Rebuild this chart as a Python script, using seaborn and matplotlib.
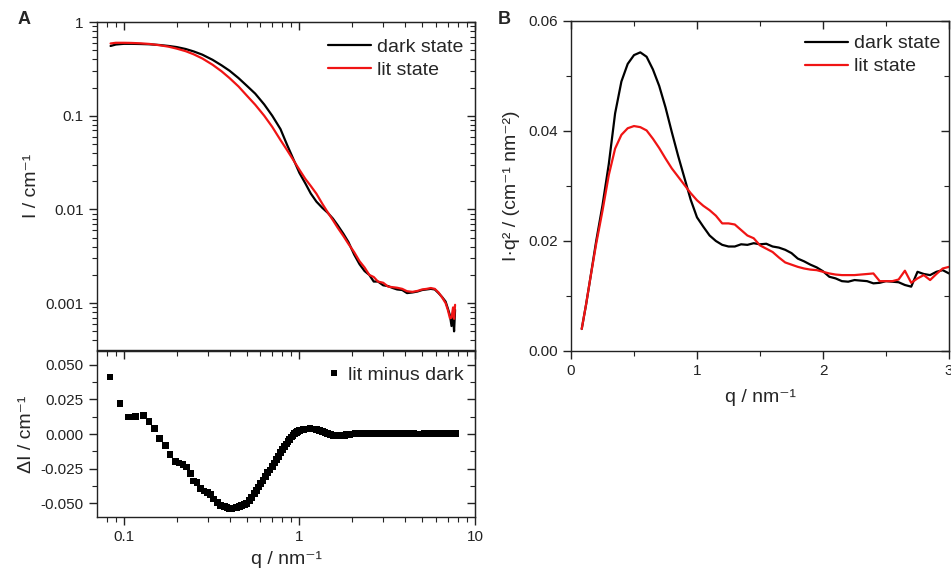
import matplotlib
matplotlib.use("Agg")
import matplotlib.pyplot as plt
import matplotlib.ticker as mticker
import numpy as np
import pandas as pd
import seaborn as sns

# panel A (top): scattering curves I(q), log-log
q_a = [0.084, 0.090, 0.100, 0.110, 0.125, 0.140, 0.160, 0.180, 0.200, 0.225,
       0.250, 0.280, 0.320, 0.360, 0.400, 0.450, 0.500, 0.560, 0.630, 0.700,
       0.780, 0.850, 0.920, 1.000, 1.080, 1.160, 1.250, 1.350, 1.450, 1.550,
       1.650, 1.780, 1.900, 2.050, 2.200, 2.350, 2.500, 2.650, 2.800, 3.000,
       3.200, 3.400, 3.600, 3.850, 4.100, 4.400, 4.700, 5.000, 5.300, 5.600,
       5.900, 6.200, 6.500, 6.800, 7.000, 7.200, 7.350, 7.500, 7.600, 7.700]
i_dark = [0.555, 0.575, 0.585, 0.585, 0.582, 0.578, 0.568, 0.555, 0.540, 0.515,
          0.485, 0.448, 0.395, 0.345, 0.302, 0.252, 0.210, 0.172, 0.132, 0.100,
          0.072, 0.049, 0.035, 0.0245, 0.0190, 0.0148, 0.0121, 0.0104, 0.0092, 0.0080,
          0.0068, 0.0055, 0.0045, 0.0033, 0.0026, 0.0022, 0.0020, 0.0017, 0.0017, 0.00155,
          0.00152, 0.00145, 0.00140, 0.00138, 0.00128, 0.00130, 0.00133, 0.00138, 0.00140, 0.00142,
          0.00140, 0.00128, 0.00116, 0.00104, 0.00088, 0.00074, 0.00057, 0.00074, 0.00050, 0.00085]
i_lit = [0.590, 0.600, 0.600, 0.598, 0.592, 0.583, 0.565, 0.545, 0.520, 0.488,
         0.452, 0.408, 0.350, 0.298, 0.252, 0.205, 0.165, 0.131, 0.100, 0.076,
         0.055, 0.043, 0.034, 0.0265, 0.0212, 0.0178, 0.0147, 0.0115, 0.0093, 0.0077,
         0.0064, 0.0052, 0.0043, 0.0035, 0.0028, 0.0024, 0.0020, 0.0019, 0.0017, 0.00165,
         0.00150, 0.00148, 0.00146, 0.00142, 0.00134, 0.00132, 0.00135, 0.00140, 0.00142, 0.00145,
         0.00142, 0.00130, 0.00115, 0.00100, 0.00085, 0.00069, 0.00070, 0.00090, 0.00068, 0.00096]

# panel A (bottom): lit minus dark
q_diff = [0.0834, 0.095, 0.106, 0.117, 0.129, 0.139, 0.150, 0.160, 0.172, 0.183,
          0.196, 0.206, 0.217, 0.228, 0.239, 0.250, 0.261, 0.273, 0.286, 0.298,
          0.311, 0.325, 0.340, 0.355, 0.365, 0.375, 0.387, 0.400, 0.413, 0.427,
          0.440, 0.456, 0.470, 0.487, 0.500, 0.520, 0.535, 0.555, 0.570, 0.587,
          0.600, 0.620, 0.640, 0.660, 0.680, 0.700, 0.720, 0.740, 0.760, 0.780,
          0.800, 0.820, 0.840, 0.860, 0.880, 0.900, 0.920, 0.940, 0.960, 0.980,
          1.00, 1.05, 1.10, 1.15, 1.20, 1.25, 1.30, 1.35, 1.40, 1.45,
          1.50, 1.56, 1.62, 1.68, 1.74, 1.80, 1.86, 1.92, 2.00, 2.08,
          2.16, 2.25, 2.35, 2.45, 2.55, 2.67, 2.80, 2.93, 3.07, 3.22,
          3.37, 3.53, 3.70, 3.88, 4.07, 4.27, 4.47, 4.68, 4.90, 5.13,
          5.37, 5.62, 5.88, 6.15, 6.43, 6.72, 7.02, 7.33, 7.65, 7.78]
d_int = [0.0412, 0.0220, 0.0123, 0.0128, 0.0133, 0.0090, 0.0041, -0.0031, -0.0082, -0.0149,
         -0.0200, -0.0210, -0.0221, -0.0239, -0.0287, -0.0340, -0.0350, -0.0393, -0.0412, -0.0424,
         -0.0438, -0.0470, -0.0496, -0.0515, -0.0520, -0.0523, -0.0530, -0.0540, -0.0540, -0.0535,
         -0.0530, -0.0523, -0.0515, -0.0508, -0.0500, -0.0480, -0.0460, -0.0430, -0.0410, -0.0383,
         -0.0360, -0.0335, -0.0310, -0.0280, -0.0260, -0.0235, -0.0210, -0.0185, -0.0160, -0.0135,
         -0.0110, -0.0092, -0.0072, -0.0055, -0.0038, -0.0022, -0.0010, 0.0002, 0.0010, 0.0018,
         0.0024, 0.0031, 0.0036, 0.0038, 0.0036, 0.0032, 0.0026, 0.0019, 0.0012, 0.0004,
         -0.0003, -0.0009, -0.0013, -0.0015, -0.0013, -0.0009, -0.0005, -0.0002, 0.0000, 0.0002,
         0.0002, 0.0003, 0.0002, 0.0002, 0.0002, 0.0001, 0.0001, 0.0002, 0.0002, 0.0001,
         0.0001, 0.0001, 0.0001, 0.0001, 0.0001, 0.0001, 0.0001, 0.0000, 0.0000, 0.0001,
         0.0001, 0.0001, 0.0001, 0.0001, 0.0001, 0.0001, 0.0001, 0.0002, 0.0003, 0.0004]

# panel B: Kratky plot I*q^2 vs q
q_b = [0.085, 0.12, 0.151, 0.20, 0.25, 0.30, 0.35, 0.40, 0.45, 0.50,
       0.55, 0.60, 0.65, 0.70, 0.75, 0.80, 0.85, 0.90, 0.95, 1.00,
       1.05, 1.10, 1.15, 1.20, 1.25, 1.30, 1.35, 1.40, 1.45, 1.50,
       1.55, 1.60, 1.65, 1.70, 1.75, 1.80, 1.85, 1.90, 1.95, 2.00,
       2.05, 2.10, 2.15, 2.20, 2.25, 2.30, 2.35, 2.40, 2.45, 2.50,
       2.55, 2.60, 2.65, 2.70, 2.75, 2.80, 2.85, 2.90, 2.95, 3.00]
k_dark = [0.0040, 0.0085, 0.0129, 0.0200, 0.0265, 0.0340, 0.0432, 0.0490, 0.0522, 0.0538,
          0.0543, 0.0535, 0.0512, 0.0482, 0.0443, 0.0398, 0.0355, 0.0315, 0.0275, 0.0243,
          0.0226, 0.0210, 0.0200, 0.0193, 0.0190, 0.0190, 0.0194, 0.0193, 0.0196, 0.0194,
          0.0195, 0.0190, 0.0188, 0.0184, 0.0178, 0.0168, 0.0163, 0.0157, 0.0152, 0.0145,
          0.0135, 0.0132, 0.0127, 0.0126, 0.0129, 0.0128, 0.0127, 0.0123, 0.0124, 0.0127,
          0.0126, 0.0125, 0.0120, 0.0117, 0.0144, 0.0140, 0.0138, 0.0144, 0.0147, 0.0141]
k_lit = [0.0040, 0.0085, 0.0129, 0.0195, 0.0255, 0.0320, 0.0368, 0.0393, 0.0405, 0.0409,
         0.0407, 0.0401, 0.0386, 0.0369, 0.0350, 0.0332, 0.0317, 0.0302, 0.0287, 0.0274,
         0.0264, 0.0256, 0.0246, 0.0232, 0.0232, 0.0230, 0.0220, 0.0210, 0.0205, 0.0192,
         0.0186, 0.0180, 0.0170, 0.0161, 0.0157, 0.0153, 0.0150, 0.0148, 0.0147, 0.0144,
         0.0141, 0.0139, 0.0138, 0.0138, 0.0138, 0.0139, 0.0140, 0.0141, 0.0127, 0.0127,
         0.0127, 0.0130, 0.0146, 0.0124, 0.0132, 0.0138, 0.0129, 0.0140, 0.0150, 0.0153]

sns.set_style("ticks")
plt.rcParams["font.family"] = ["Liberation Sans", "DejaVu Sans"]

TICK_FS = 11
LABEL_FS = 14
LEG_FS = 14
RED = "#f01414"
INK = "#222222"


def style_axis(ax):
    for s in ax.spines.values():
        s.set_linewidth(1.0)
        s.set_color(INK)
    ax.tick_params(which="both", top=False, right=False, direction="out",
                   labelsize=TICK_FS, colors=INK)
    ax.tick_params(which="major", length=6, width=1.0)
    ax.tick_params(which="minor", length=3.5, width=0.8)


def inner_ticks(ax, xmaj, xmin, ymaj, ymin):
    # mirror ticks on top / right, pointing inwards
    top = ax.secondary_xaxis("top")
    top.set_xticks(xmaj)
    top.xaxis.set_minor_locator(xmin)
    top.tick_params(which="both", direction="in", labeltop=False, colors=INK)
    top.tick_params(which="major", length=6, width=1.0)
    top.tick_params(which="minor", length=3.5, width=0.8)
    right = ax.secondary_yaxis("right")
    right.set_yticks(ymaj)
    right.yaxis.set_minor_locator(ymin)
    right.tick_params(which="both", direction="in", labelright=False, colors=INK)
    right.tick_params(which="major", length=6, width=1.0)
    right.tick_params(which="minor", length=3.5, width=0.8)


log_minor = mticker.LogLocator(base=10, subs=np.arange(2, 10))

fig = plt.figure(figsize=(9.51, 5.71), dpi=100)

# ---- panel A top
ax_top = fig.add_axes([97 / 951, 1 - 350 / 571, 378 / 951, 328 / 571])
df_a = pd.DataFrame({"q": q_a * 2, "I": i_dark + i_lit,
                     "state": ["dark state"] * len(q_a) + ["lit state"] * len(q_a)})
sns.lineplot(data=df_a, x="q", y="I", hue="state", palette=["black", RED],
             linewidth=1.6, ax=ax_top, sort=False, estimator=None)
ax_top.set_xscale("log")
ax_top.set_yscale("log")
ax_top.set_xlim(10 ** -1.153, 10)
ax_top.set_ylim(10 ** -3.5, 1)
style_axis(ax_top)
ax_top.set_yticks([0.001, 0.01, 0.1, 1])
ax_top.yaxis.set_major_formatter(mticker.FuncFormatter(lambda v, p: f"{v:g}"))
ax_top.yaxis.set_minor_locator(mticker.LogLocator(base=10, subs=np.arange(2, 10)))
ax_top.yaxis.set_minor_formatter(mticker.NullFormatter())
ax_top.tick_params(axis="x", which="both", labelbottom=False, bottom=False)
inner_ticks(ax_top, [0.1, 1, 10], mticker.LogLocator(base=10, subs=np.arange(2, 10)),
            [0.001, 0.01, 0.1, 1], mticker.LogLocator(base=10, subs=np.arange(2, 10)))
ax_top.set_xlabel("")
ax_top.set_ylabel("I / cm⁻¹", fontsize=LABEL_FS)
ax_top.legend(frameon=False, fontsize=LEG_FS, loc="upper right", bbox_to_anchor=(1.0, 0.985),
              handlelength=2.2, handletextpad=0.3, labelspacing=0.28, borderaxespad=0.2,
              title=None)

# ---- panel A bottom
ax_bot = fig.add_axes([97 / 951, 1 - 517 / 571, 378 / 951, 166 / 571])
df_d = pd.DataFrame({"q": q_diff, "dI": d_int, "series": "lit minus dark"})
sns.scatterplot(data=df_d, x="q", y="dI", hue="series", palette=["black"], marker="s",
                s=24, linewidth=0, ax=ax_bot)
ax_bot.set_xscale("log")
ax_bot.set_xlim(10 ** -1.153, 10)
ax_bot.set_ylim(-0.06, 0.06)
style_axis(ax_bot)
ax_bot.set_xticks([0.1, 1, 10])
ax_bot.xaxis.set_major_formatter(mticker.FuncFormatter(lambda v, p: f"{v:g}"))
ax_bot.xaxis.set_minor_locator(mticker.LogLocator(base=10, subs=np.arange(2, 10)))
ax_bot.xaxis.set_minor_formatter(mticker.NullFormatter())
ax_bot.set_yticks([-0.05, -0.025, 0, 0.025, 0.05])
ax_bot.yaxis.set_major_formatter(mticker.FuncFormatter(lambda v, p: f"{v:.3f}"))
ax_bot.yaxis.set_minor_locator(mticker.MultipleLocator(0.0125))
inner_ticks(ax_bot, [0.1, 1, 10], mticker.LogLocator(base=10, subs=np.arange(2, 10)),
            [-0.05, -0.025, 0, 0.025, 0.05], mticker.MultipleLocator(0.0125))
ax_bot.set_xlabel("q / nm⁻¹", fontsize=LABEL_FS, labelpad=5)
ax_bot.set_ylabel("ΔI / cm⁻¹", fontsize=LABEL_FS)
ax_bot.legend(frameon=False, fontsize=LEG_FS, loc="upper right", bbox_to_anchor=(1.0, 0.98),
              handlelength=0.6, handletextpad=0.4, borderaxespad=0.2, title=None)

fig.align_ylabels([ax_top, ax_bot])

# ---- panel B
ax_b = fig.add_axes([571 / 951, 1 - 351 / 571, 378 / 951, 330 / 571])
df_b = pd.DataFrame({"q": q_b * 2, "Iq2": k_dark + k_lit,
                     "state": ["dark state"] * len(q_b) + ["lit state"] * len(q_b)})
sns.lineplot(data=df_b, x="q", y="Iq2", hue="state", palette=["black", RED],
             linewidth=1.6, ax=ax_b, sort=False, estimator=None)
ax_b.set_xlim(0, 3)
ax_b.set_ylim(0, 0.06)
style_axis(ax_b)
ax_b.set_xticks([0, 1, 2, 3])
ax_b.xaxis.set_minor_locator(mticker.MultipleLocator(0.5))
ax_b.set_yticks([0, 0.02, 0.04, 0.06])
ax_b.yaxis.set_major_formatter(mticker.FuncFormatter(lambda v, p: f"{v:.2f}"))
ax_b.yaxis.set_minor_locator(mticker.MultipleLocator(0.01))
inner_ticks(ax_b, [0, 1, 2, 3], mticker.MultipleLocator(0.5),
            [0, 0.02, 0.04, 0.06], mticker.MultipleLocator(0.01))
ax_b.set_xlabel("q / nm⁻¹", fontsize=LABEL_FS, labelpad=8)
ax_b.set_ylabel("I·q² / (cm⁻¹ nm⁻²)", fontsize=LABEL_FS, labelpad=6)
ax_b.legend(frameon=False, fontsize=LEG_FS, loc="upper right", bbox_to_anchor=(1.0, 0.985),
            handlelength=2.2, handletextpad=0.3, labelspacing=0.28, borderaxespad=0.05,
            title=None)

fig.text(18 / 951, 1 - 20 / 571, "A", fontsize=13, fontweight="bold", va="center", ha="left")
fig.text(498 / 951, 1 - 20 / 571, "B", fontsize=13, fontweight="bold", va="center", ha="left")

fig.savefig("out.png", dpi=100)
